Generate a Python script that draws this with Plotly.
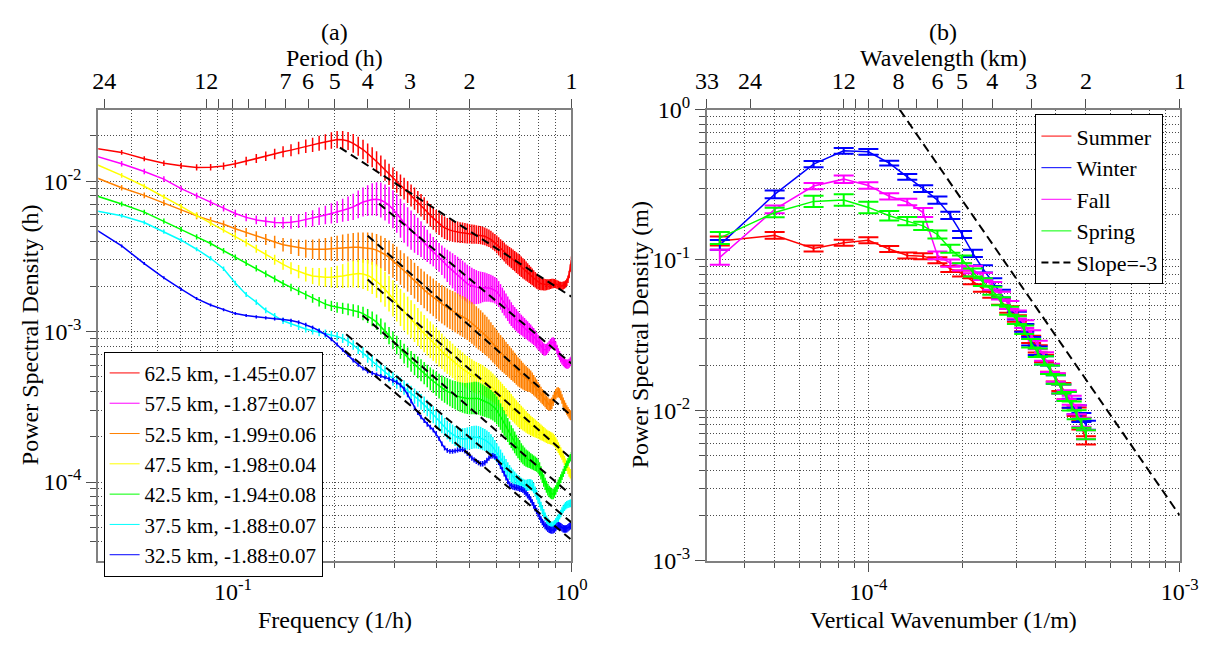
import numpy as np
import plotly.graph_objects as go

# ======================= panel (a) data =======================
FREQ_PER_H = [0.0391, 0.0469, 0.0547, 0.0625, 0.0703, 0.0781, 0.0859, 0.0938, 0.1016, 0.1094,
              0.1172, 0.125, 0.1328, 0.1406, 0.1484, 0.1563, 0.1641, 0.1719, 0.1797, 0.1875,
              0.1953, 0.2031, 0.2109, 0.2188, 0.2266, 0.2344, 0.2422, 0.25, 0.2578, 0.2656,
              0.2734, 0.2813, 0.2891, 0.2969, 0.3047, 0.3125, 0.3203, 0.3281, 0.3359, 0.3438,
              0.3516, 0.3594, 0.3672, 0.375, 0.3828, 0.3906, 0.3984, 0.4063, 0.4141, 0.4219,
              0.4297, 0.4375, 0.4453, 0.4531, 0.4609, 0.4688, 0.4766, 0.4844, 0.4922, 0.5,
              0.5078, 0.5156, 0.5234, 0.5313, 0.5391, 0.5469, 0.5547, 0.5625, 0.5703, 0.5781,
              0.5859, 0.5938, 0.6016, 0.6094, 0.6172, 0.625, 0.6328, 0.6406, 0.6484, 0.6563,
              0.6641, 0.6719, 0.6797, 0.6875, 0.6953, 0.7031, 0.7109, 0.7188, 0.7266, 0.7344,
              0.7422, 0.75, 0.7578, 0.7656, 0.7734, 0.7813, 0.7891, 0.7969, 0.8047, 0.8125,
              0.8203, 0.8281, 0.8359, 0.8438, 0.8516, 0.8594, 0.8672, 0.875, 0.8828, 0.8906,
              0.8984, 0.9063, 0.9141, 0.9219, 0.9297, 0.9375, 0.9453, 0.9531, 0.9609, 0.9688,
              0.9766, 0.9844, 0.9922, 1.0]

# log10 of power spectral density (h)
PSD_LOG10_625 = [-1.780, -1.808, -1.850, -1.880, -1.897, -1.908, -1.907, -1.899, -1.884, -1.865,
                 -1.848, -1.834, -1.818, -1.804, -1.793, -1.779, -1.767, -1.758, -1.747, -1.739,
                 -1.729, -1.723, -1.724, -1.732, -1.748, -1.767, -1.789, -1.815, -1.840, -1.869,
                 -1.897, -1.926, -1.954, -1.980, -2.005, -2.027, -2.049, -2.072, -2.094, -2.116,
                 -2.138, -2.160, -2.182, -2.205, -2.227, -2.246, -2.265, -2.281, -2.297, -2.309,
                 -2.319, -2.325, -2.330, -2.335, -2.338, -2.341, -2.343, -2.345, -2.347, -2.349,
                 -2.351, -2.352, -2.354, -2.356, -2.358, -2.362, -2.366, -2.373, -2.379, -2.387,
                 -2.398, -2.408, -2.420, -2.433, -2.446, -2.458, -2.471, -2.484, -2.493, -2.503,
                 -2.512, -2.522, -2.531, -2.541, -2.550, -2.560, -2.569, -2.579, -2.588, -2.598,
                 -2.607, -2.617, -2.626, -2.636, -2.645, -2.655, -2.664, -2.671, -2.677, -2.680,
                 -2.683, -2.687, -2.688, -2.688, -2.687, -2.685, -2.683, -2.681, -2.680, -2.680,
                 -2.683, -2.687, -2.690, -2.693, -2.696, -2.696, -2.693, -2.690, -2.683, -2.671,
                 -2.652, -2.620, -2.576, -2.525]
PSD_LOG10_575 = [-1.831, -1.884, -1.935, -1.986, -2.049, -2.097, -2.144, -2.179, -2.214, -2.240,
                 -2.257, -2.268, -2.274, -2.276, -2.273, -2.265, -2.255, -2.246, -2.233, -2.224,
                 -2.214, -2.205, -2.193, -2.183, -2.170, -2.154, -2.138, -2.129, -2.121, -2.119,
                 -2.125, -2.141, -2.160, -2.186, -2.214, -2.246, -2.278, -2.303, -2.325, -2.347,
                 -2.366, -2.385, -2.408, -2.430, -2.449, -2.468, -2.487, -2.506, -2.525, -2.544,
                 -2.563, -2.579, -2.595, -2.611, -2.626, -2.641, -2.655, -2.668, -2.680, -2.690,
                 -2.696, -2.701, -2.704, -2.706, -2.706, -2.704, -2.704, -2.706, -2.709, -2.713,
                 -2.718, -2.725, -2.734, -2.750, -2.769, -2.791, -2.810, -2.829, -2.848, -2.867,
                 -2.883, -2.899, -2.912, -2.924, -2.937, -2.947, -2.956, -2.966, -2.975, -2.985,
                 -2.994, -3.004, -3.013, -3.023, -3.032, -3.045, -3.058, -3.070, -3.083, -3.096,
                 -3.108, -3.118, -3.121, -3.118, -3.108, -3.096, -3.083, -3.073, -3.070, -3.077,
                 -3.096, -3.118, -3.140, -3.159, -3.175, -3.188, -3.197, -3.207, -3.213, -3.216,
                 -3.216, -3.210, -3.200, -3.191]
PSD_LOG10_525 = [-1.973, -2.043, -2.094, -2.144, -2.193, -2.230, -2.260, -2.286, -2.316, -2.341,
                 -2.366, -2.387, -2.404, -2.422, -2.433, -2.442, -2.449, -2.452, -2.453, -2.452,
                 -2.449, -2.446, -2.442, -2.441, -2.439, -2.439, -2.441, -2.444, -2.449, -2.458,
                 -2.471, -2.487, -2.506, -2.528, -2.550, -2.573, -2.595, -2.617, -2.639, -2.661,
                 -2.683, -2.702, -2.722, -2.741, -2.756, -2.772, -2.788, -2.804, -2.817, -2.829,
                 -2.842, -2.852, -2.861, -2.871, -2.880, -2.890, -2.899, -2.909, -2.918, -2.931,
                 -2.943, -2.956, -2.969, -2.982, -2.994, -3.007, -3.020, -3.032, -3.048, -3.064,
                 -3.080, -3.096, -3.112, -3.127, -3.140, -3.153, -3.165, -3.178, -3.191, -3.203,
                 -3.216, -3.229, -3.241, -3.254, -3.267, -3.276, -3.286, -3.295, -3.305, -3.311,
                 -3.318, -3.324, -3.333, -3.343, -3.356, -3.368, -3.381, -3.394, -3.406, -3.419,
                 -3.432, -3.444, -3.457, -3.470, -3.479, -3.486, -3.486, -3.476, -3.457, -3.435,
                 -3.416, -3.406, -3.403, -3.410, -3.425, -3.448, -3.470, -3.489, -3.505, -3.521,
                 -3.533, -3.546, -3.555, -3.562]
PSD_LOG10_475 = [-1.884, -1.961, -2.033, -2.103, -2.167, -2.227, -2.278, -2.322, -2.366, -2.408,
                 -2.449, -2.487, -2.522, -2.553, -2.579, -2.601, -2.617, -2.630, -2.636, -2.639,
                 -2.639, -2.636, -2.630, -2.623, -2.617, -2.614, -2.617, -2.626, -2.642, -2.664,
                 -2.690, -2.718, -2.747, -2.779, -2.810, -2.839, -2.867, -2.893, -2.918, -2.943,
                 -2.969, -2.991, -3.013, -3.035, -3.054, -3.073, -3.092, -3.112, -3.131, -3.150,
                 -3.165, -3.178, -3.194, -3.210, -3.222, -3.235, -3.248, -3.261, -3.270, -3.280,
                 -3.289, -3.299, -3.305, -3.311, -3.318, -3.324, -3.333, -3.343, -3.352, -3.362,
                 -3.375, -3.387, -3.400, -3.413, -3.425, -3.438, -3.451, -3.463, -3.476, -3.489,
                 -3.501, -3.514, -3.527, -3.540, -3.552, -3.562, -3.571, -3.581, -3.590, -3.600,
                 -3.609, -3.616, -3.625, -3.631, -3.638, -3.644, -3.650, -3.657, -3.663, -3.670,
                 -3.676, -3.682, -3.689, -3.695, -3.701, -3.704, -3.708, -3.711, -3.717, -3.727,
                 -3.739, -3.755, -3.771, -3.787, -3.803, -3.819, -3.838, -3.857, -3.876, -3.895,
                 -3.914, -3.933, -3.945, -3.958]
PSD_LOG10_425 = [-2.094, -2.151, -2.205, -2.265, -2.320, -2.370, -2.414, -2.462, -2.506, -2.544,
                 -2.579, -2.616, -2.649, -2.680, -2.706, -2.731, -2.756, -2.779, -2.801, -2.817,
                 -2.829, -2.839, -2.845, -2.852, -2.859, -2.867, -2.880, -2.896, -2.915, -2.937,
                 -2.966, -2.994, -3.026, -3.058, -3.089, -3.118, -3.146, -3.172, -3.197, -3.219,
                 -3.238, -3.257, -3.276, -3.295, -3.314, -3.330, -3.346, -3.362, -3.375, -3.387,
                 -3.397, -3.406, -3.416, -3.422, -3.429, -3.435, -3.439, -3.443, -3.444, -3.444,
                 -3.443, -3.441, -3.441, -3.444, -3.451, -3.457, -3.463, -3.470, -3.476, -3.486,
                 -3.495, -3.508, -3.524, -3.543, -3.565, -3.587, -3.609, -3.631, -3.654, -3.676,
                 -3.698, -3.717, -3.736, -3.755, -3.774, -3.790, -3.806, -3.819, -3.831, -3.841,
                 -3.847, -3.853, -3.860, -3.866, -3.872, -3.879, -3.885, -3.895, -3.914, -3.939,
                 -3.964, -3.990, -4.012, -4.031, -4.050, -4.063, -4.072, -4.079, -4.079, -4.069,
                 -4.053, -4.034, -4.015, -3.996, -3.977, -3.958, -3.939, -3.920, -3.901, -3.882,
                 -3.866, -3.850, -3.838, -3.825]
PSD_LOG10_375 = [-2.195, -2.229, -2.274, -2.335, -2.392, -2.452, -2.512, -2.582, -2.677, -2.753,
                 -2.804, -2.858, -2.896, -2.928, -2.947, -2.966, -2.982, -2.994, -3.004, -3.013,
                 -3.023, -3.032, -3.045, -3.064, -3.089, -3.115, -3.140, -3.169, -3.197, -3.222,
                 -3.248, -3.270, -3.292, -3.314, -3.333, -3.352, -3.371, -3.390, -3.410, -3.429,
                 -3.448, -3.467, -3.486, -3.508, -3.530, -3.552, -3.574, -3.597, -3.616, -3.635,
                 -3.654, -3.670, -3.682, -3.695, -3.704, -3.711, -3.714, -3.714, -3.711, -3.708,
                 -3.704, -3.701, -3.701, -3.704, -3.708, -3.714, -3.720, -3.730, -3.739, -3.752,
                 -3.768, -3.787, -3.806, -3.825, -3.844, -3.863, -3.882, -3.901, -3.920, -3.936,
                 -3.952, -3.964, -3.977, -3.990, -3.999, -4.009, -4.015, -4.021, -4.025, -4.025,
                 -4.021, -4.018, -4.018, -4.025, -4.040, -4.063, -4.085, -4.110, -4.136, -4.161,
                 -4.186, -4.209, -4.231, -4.250, -4.266, -4.278, -4.288, -4.291, -4.288, -4.278,
                 -4.266, -4.253, -4.240, -4.224, -4.209, -4.193, -4.180, -4.167, -4.158, -4.151,
                 -4.148, -4.145, -4.142, -4.139]
PSD_LOG10_325 = [-2.316, -2.430, -2.547, -2.642, -2.718, -2.780, -2.823, -2.855, -2.880, -2.893,
                 -2.902, -2.909, -2.915, -2.920, -2.926, -2.937, -2.953, -2.972, -2.994, -3.020,
                 -3.051, -3.086, -3.121, -3.156, -3.191, -3.219, -3.245, -3.264, -3.276, -3.286,
                 -3.295, -3.305, -3.314, -3.324, -3.337, -3.356, -3.381, -3.419, -3.463, -3.508,
                 -3.540, -3.568, -3.593, -3.616, -3.635, -3.654, -3.679, -3.711, -3.746, -3.774,
                 -3.790, -3.796, -3.796, -3.793, -3.787, -3.784, -3.784, -3.793, -3.809, -3.825,
                 -3.841, -3.853, -3.863, -3.872, -3.879, -3.879, -3.872, -3.857, -3.841, -3.828,
                 -3.825, -3.831, -3.847, -3.869, -3.895, -3.920, -3.945, -3.971, -3.996, -4.015,
                 -4.025, -4.031, -4.034, -4.037, -4.040, -4.044, -4.047, -4.053, -4.063, -4.075,
                 -4.088, -4.101, -4.117, -4.136, -4.155, -4.174, -4.193, -4.212, -4.231, -4.250,
                 -4.266, -4.278, -4.291, -4.300, -4.310, -4.316, -4.319, -4.321, -4.319, -4.313,
                 -4.304, -4.294, -4.290, -4.291, -4.297, -4.304, -4.310, -4.313, -4.313, -4.310,
                 -4.304, -4.297, -4.291, -4.288]

# error-bar half widths, in decades
ERR_625 = [0.016, 0.016, 0.017, 0.018, 0.020, 0.021, 0.022, 0.024, 0.026, 0.028, 0.030, 0.032,
           0.035, 0.037, 0.040, 0.042, 0.045, 0.047, 0.050, 0.052, 0.055, 0.057, 0.059, 0.060,
           0.062, 0.063, 0.065, 0.066,
           0.067, 0.068, 0.069, 0.070, 0.070, 0.071, 0.071, 0.072, 0.072, 0.073, 0.073, 0.074,
           0.074, 0.075, 0.075, 0.076, 0.076, 0.076, 0.076, 0.076, 0.075, 0.075, 0.074, 0.073,
           0.072, 0.071, 0.070, 0.069, 0.068, 0.067, 0.066, 0.065, 0.064, 0.063,
           0.062, 0.061, 0.060, 0.060, 0.059, 0.059, 0.058, 0.058, 0.058, 0.058,
           0.059, 0.060, 0.061, 0.062, 0.063, 0.064, 0.065, 0.066, 0.067, 0.068, 0.068, 0.069, 0.069, 0.069,
           0.068, 0.067, 0.066, 0.064, 0.062, 0.060, 0.058, 0.056, 0.054, 0.052, 0.050, 0.048, 0.046, 0.044,
           0.042, 0.040, 0.038, 0.036, 0.035, 0.034, 0.033, 0.032, 0.031, 0.030, 0.029, 0.028,
           0.028, 0.027, 0.027, 0.026, 0.026, 0.025, 0.025, 0.025, 0.025, 0.025, 0.025, 0.025]
ERR_575 = [0.017, 0.018, 0.018, 0.019, 0.019, 0.020, 0.021, 0.022,
           0.024, 0.026, 0.029, 0.032, 0.035, 0.038,
           0.042, 0.046, 0.050, 0.054, 0.058, 0.062,
           0.067, 0.072, 0.077, 0.082, 0.087, 0.092,
           0.097, 0.102, 0.107, 0.112, 0.116, 0.120,
           0.123, 0.126, 0.128, 0.130, 0.131, 0.131, 0.130, 0.128,
           0.124, 0.119, 0.113, 0.107, 0.102, 0.098, 0.096, 0.096,
           0.098, 0.102, 0.107, 0.112, 0.117, 0.121, 0.124, 0.126, 0.127, 0.127,
           0.126, 0.124, 0.121, 0.117, 0.113, 0.109, 0.105, 0.101, 0.098, 0.095,
           0.093, 0.091, 0.089, 0.088, 0.087, 0.086, 0.085, 0.084, 0.083, 0.082, 0.081, 0.080,
           0.079, 0.077, 0.076, 0.074, 0.072, 0.070, 0.068, 0.067, 0.065, 0.064, 0.063, 0.062,
           0.060, 0.058, 0.056, 0.054, 0.052, 0.050, 0.048, 0.045, 0.043, 0.041, 0.039, 0.037,
           0.036, 0.035, 0.034, 0.033, 0.032, 0.032, 0.031, 0.031, 0.030, 0.030,
           0.030, 0.030, 0.030, 0.030, 0.030, 0.030, 0.030, 0.030, 0.030, 0.030]
ERR_525 = [0.017, 0.018, 0.019, 0.020, 0.021, 0.022, 0.023, 0.025,
           0.027, 0.030, 0.033, 0.037, 0.041, 0.045, 0.050, 0.055,
           0.060, 0.065, 0.070, 0.075, 0.080, 0.084, 0.088, 0.092,
           0.095, 0.098, 0.101, 0.104, 0.106, 0.108, 0.109, 0.110,
           0.112, 0.113, 0.114, 0.115, 0.116, 0.117, 0.118, 0.119, 0.120, 0.121, 0.122, 0.123,
           0.124, 0.125, 0.126, 0.127, 0.128, 0.129, 0.130, 0.131, 0.132, 0.133, 0.134, 0.135,
           0.136, 0.137, 0.137, 0.138, 0.138, 0.138, 0.138, 0.137, 0.136, 0.135, 0.133, 0.131,
           0.129, 0.127, 0.125, 0.123,
           0.121, 0.119, 0.117, 0.115, 0.113, 0.111, 0.109, 0.107, 0.105, 0.103, 0.101, 0.099,
           0.097, 0.095,
           0.092, 0.089, 0.086, 0.083, 0.080, 0.077, 0.074, 0.071, 0.068, 0.065, 0.062, 0.059,
           0.056, 0.053,
           0.050, 0.048, 0.046, 0.044, 0.042, 0.040, 0.039, 0.038, 0.037, 0.036, 0.035, 0.034,
           0.033, 0.033, 0.032, 0.032, 0.032, 0.032, 0.032, 0.032, 0.032, 0.032, 0.032, 0.032]
ERR_475 = [0.016, 0.016, 0.017, 0.017, 0.018, 0.019, 0.020, 0.021,
           0.023, 0.025, 0.027, 0.030, 0.033, 0.036, 0.040, 0.044,
           0.049, 0.054, 0.059, 0.064, 0.069, 0.074, 0.079, 0.084,
           0.089, 0.094, 0.099, 0.103, 0.107, 0.111, 0.114, 0.117,
           0.119, 0.121, 0.123, 0.124, 0.125, 0.126, 0.126, 0.126, 0.126, 0.125, 0.124, 0.123,
           0.122, 0.121, 0.120, 0.119, 0.118, 0.117, 0.116, 0.115, 0.114, 0.113, 0.112, 0.111,
           0.110, 0.109, 0.108, 0.107, 0.106, 0.105, 0.104, 0.103, 0.102, 0.101, 0.100, 0.099,
           0.098, 0.097, 0.096, 0.095,
           0.094, 0.093, 0.092, 0.091, 0.090, 0.089, 0.088, 0.087, 0.086, 0.085, 0.084, 0.083,
           0.082, 0.080,
           0.078, 0.076, 0.074, 0.072, 0.070, 0.068, 0.066, 0.064, 0.062, 0.060, 0.058, 0.056,
           0.054, 0.052,
           0.050, 0.048, 0.046, 0.045, 0.044, 0.043, 0.042, 0.041, 0.040, 0.039, 0.038, 0.037,
           0.036, 0.035, 0.034, 0.033, 0.032, 0.032, 0.032, 0.032, 0.032, 0.032, 0.032, 0.032]
ERR_425 = [0.015, 0.016, 0.016, 0.017, 0.017, 0.018, 0.018, 0.019,
           0.019, 0.020, 0.021, 0.022, 0.023, 0.024, 0.025, 0.026,
           0.028, 0.029, 0.031, 0.032, 0.034, 0.035, 0.037, 0.039,
           0.041, 0.043, 0.045, 0.047, 0.049, 0.051, 0.053, 0.055,
           0.057, 0.059, 0.061, 0.063, 0.065, 0.067, 0.069, 0.071, 0.072, 0.073, 0.074, 0.075,
           0.076, 0.078, 0.080, 0.082, 0.084, 0.086, 0.088, 0.090, 0.092, 0.094, 0.096, 0.098,
           0.100, 0.102, 0.104, 0.106, 0.107, 0.108, 0.108, 0.108, 0.107, 0.106, 0.104, 0.102,
           0.100, 0.098, 0.096, 0.094,
           0.092, 0.090, 0.088, 0.086, 0.084, 0.082, 0.080, 0.078, 0.076, 0.074, 0.072, 0.070,
           0.068, 0.066,
           0.064, 0.062, 0.060, 0.058, 0.056, 0.054, 0.052, 0.050, 0.049, 0.048, 0.047, 0.046,
           0.045, 0.044,
           0.043, 0.042, 0.041, 0.040, 0.039, 0.038, 0.037, 0.036, 0.035, 0.034, 0.033, 0.032,
           0.031, 0.030, 0.029, 0.028, 0.027, 0.026, 0.026, 0.025, 0.025, 0.025, 0.025, 0.025]
ERR_375 = [0.013, 0.013, 0.013, 0.014, 0.014, 0.014, 0.015, 0.015,
           0.016, 0.017, 0.018, 0.019, 0.020, 0.021, 0.022, 0.023,
           0.024, 0.025, 0.026, 0.027, 0.028, 0.029, 0.030, 0.031,
           0.032, 0.034, 0.036, 0.038, 0.040, 0.041, 0.042, 0.043,
           0.044, 0.045, 0.046, 0.047, 0.048, 0.049, 0.050, 0.051, 0.052, 0.053, 0.054, 0.055,
           0.056, 0.057, 0.058, 0.059, 0.060, 0.061, 0.062, 0.063, 0.064, 0.066, 0.068, 0.070,
           0.072, 0.073, 0.074, 0.075, 0.076, 0.076, 0.076, 0.076, 0.075, 0.074, 0.073, 0.072,
           0.071, 0.070, 0.068, 0.066,
           0.064, 0.062, 0.060, 0.058, 0.056, 0.054, 0.052, 0.050, 0.049, 0.048, 0.047, 0.046,
           0.045, 0.044,
           0.043, 0.042, 0.041, 0.040, 0.039, 0.038, 0.037, 0.036, 0.035, 0.034, 0.033, 0.032,
           0.031, 0.030,
           0.030, 0.029, 0.029, 0.028, 0.028, 0.028, 0.027, 0.027, 0.027, 0.026, 0.026, 0.026,
           0.025, 0.025, 0.025, 0.025, 0.025, 0.025, 0.025, 0.025, 0.025, 0.025, 0.025, 0.025]
ERR_325 = [0.010, 0.010, 0.010, 0.010, 0.010, 0.010, 0.010, 0.010, 0.010, 0.010,
           0.011, 0.011, 0.011, 0.012, 0.012, 0.012, 0.012, 0.012, 0.013, 0.013,
           0.013, 0.013, 0.013, 0.013, 0.014, 0.014, 0.014, 0.014, 0.014, 0.014,
           0.014, 0.014, 0.014, 0.015, 0.015, 0.015, 0.015, 0.015, 0.015, 0.015,
           0.015, 0.015, 0.015, 0.016, 0.016, 0.016, 0.016, 0.016, 0.016, 0.016,
           0.016, 0.016, 0.016, 0.016, 0.017, 0.017, 0.017, 0.017, 0.017, 0.017,
           0.017, 0.017, 0.017, 0.017, 0.018, 0.018, 0.018, 0.018, 0.018, 0.018,
           0.018, 0.018, 0.018, 0.018, 0.019, 0.019, 0.019, 0.019, 0.019, 0.019,
           0.020, 0.020, 0.020, 0.020, 0.020, 0.020, 0.020, 0.020, 0.021, 0.021,
           0.021, 0.021, 0.021, 0.021, 0.022, 0.022, 0.022, 0.022, 0.022, 0.022,
           0.022, 0.022, 0.023, 0.023, 0.023, 0.023, 0.023, 0.023, 0.024, 0.024,
           0.024, 0.024, 0.024, 0.024, 0.025, 0.025, 0.025, 0.025, 0.025, 0.025,
           0.025, 0.025, 0.025, 0.025]

SERIES_A = [PSD_LOG10_625, PSD_LOG10_575, PSD_LOG10_525, PSD_LOG10_475,
            PSD_LOG10_425, PSD_LOG10_375, PSD_LOG10_325]
ERRORS_A = [ERR_625, ERR_575, ERR_525, ERR_475, ERR_425, ERR_375, ERR_325]
LABELS_A = ["62.5 km, -1.45±0.07", "57.5 km, -1.87±0.07", "52.5 km, -1.99±0.06",
            "47.5 km, -1.98±0.04", "42.5 km, -1.94±0.08", "37.5 km, -1.88±0.07",
            "32.5 km, -1.88±0.07"]
COLORS_A = ["#FF0000", "#FF00FF", "#FF8000", "#FFFF00", "#00FF00", "#00FFFF", "#0000FF"]
# fitted power laws (slope, log10 PSD at 1 cycle/h, first fitted frequency)
FIT_SLOPE = [-1.45, -1.87, -1.99, -1.98, -1.94, -1.88, -1.88]
FIT_LOG10_AT_1 = [-2.768, -3.212, -3.560, -3.846, -4.089, -4.269, -4.385]
FIT_START_FREQ = [0.207, 0.27, 0.25, 0.25, 0.2415, 0.216, 0.214]

PERIOD_TICKS_H = [24, 12, 7, 6, 5, 4, 3, 2, 1]
PERIOD_MINOR_H = [11, 10, 9, 8]

# ======================= panel (b) data =======================
WAVENUMBER_PER_M = [3.333e-5, 5.0e-5, 6.667e-5, 8.333e-5, 1.0e-4, 1.1667e-4, 1.3333e-4, 1.5e-4,
                    1.6667e-4, 1.8333e-4, 2.0e-4, 2.1667e-4, 2.3333e-4, 2.5e-4, 2.6667e-4,
                    2.8333e-4, 3.0e-4, 3.1667e-4, 3.3333e-4, 3.5e-4, 3.6667e-4, 3.8333e-4,
                    4.0e-4, 4.1667e-4, 4.3333e-4, 4.5e-4, 4.6667e-4, 4.8333e-4, 5.0e-4]
SUMMER_LOG10 = [-0.875, -0.837, -0.924, -0.886, -0.869, -0.928, -0.970, -0.975, -1.003, -1.060,
                -1.090, -1.142, -1.192, -1.230, -1.276, -1.330, -1.390, -1.450, -1.528, -1.592,
                -1.655, -1.718, -1.782, -1.845, -1.900, -1.955, -2.010, -2.100, -2.200]
WINTER_LOG10 = [-0.900, -0.564, -0.363, -0.275, -0.281, -0.357, -0.448, -0.526, -0.602, -0.704,
                -0.831, -0.957, -1.059, -1.148, -1.224, -1.300, -1.370, -1.452, -1.541, -1.604,
                -1.668, -1.731, -1.795, -1.858, -1.909, -1.953, -1.997, -2.048, -2.099]
FALL_LOG10 = [-0.983, -0.664, -0.509, -0.463, -0.505, -0.577, -0.615, -0.685, -0.970, -1.021,
              -1.046, -1.065, -1.110, -1.173, -1.237, -1.300, -1.363, -1.427, -1.496, -1.566,
              -1.642, -1.718, -1.782, -1.858, -1.896, -1.934, -1.997, -2.080, -2.162]
SPRING_LOG10 = [-0.854, -0.685, -0.611, -0.602, -0.651, -0.706, -0.742, -0.774, -0.831, -0.926,
                -0.996, -1.084, -1.148, -1.205, -1.275, -1.338, -1.401, -1.465, -1.554, -1.617,
                -1.668, -1.731, -1.795, -1.858, -1.909, -1.972, -2.029, -2.086, -2.162]
SUMMER_ERR = [0.030, 0.022, 0.020, 0.020, 0.020, 0.020, 0.020, 0.020, 0.020, 0.020, 0.020, 0.020,
              0.020, 0.022, 0.022, 0.022, 0.022, 0.024, 0.024, 0.024, 0.024, 0.026, 0.026, 0.026,
              0.026, 0.028, 0.028, 0.028, 0.028]
WINTER_ERR = [0.032, 0.026, 0.021, 0.019, 0.019, 0.016, 0.019, 0.022, 0.024, 0.024, 0.024, 0.024,
              0.024, 0.026, 0.026, 0.026, 0.026, 0.026, 0.028, 0.028, 0.028, 0.028, 0.028, 0.030,
              0.030, 0.030, 0.030, 0.030, 0.030]
FALL_ERR = [0.050, 0.026, 0.021, 0.025, 0.022, 0.021, 0.021, 0.030, 0.026, 0.024, 0.024, 0.024,
            0.024, 0.026, 0.026, 0.026, 0.026, 0.026, 0.028, 0.028, 0.028, 0.028, 0.028, 0.030,
            0.030, 0.030, 0.030, 0.030, 0.030]
SPRING_ERR = [0.040, 0.032, 0.038, 0.038, 0.038, 0.032, 0.028, 0.028, 0.026, 0.026, 0.026, 0.026,
              0.026, 0.026, 0.026, 0.026, 0.026, 0.028, 0.028, 0.028, 0.028, 0.028, 0.028, 0.030,
              0.030, 0.030, 0.030, 0.030, 0.030]
SEASONS = ["Summer", "Winter", "Fall", "Spring"]
SEASON_SERIES = [SUMMER_LOG10, WINTER_LOG10, FALL_LOG10, SPRING_LOG10]
SEASON_ERRORS = [SUMMER_ERR, WINTER_ERR, FALL_ERR, SPRING_ERR]
SEASON_COLORS = ["#FF0000", "#0000FF", "#FF00FF", "#00FF00"]
REF_SLOPE = -3
REF_PSD_AT_1E3 = 2e-3
WAVELENGTH_TICKS_KM = [33, 24, 12, 8, 6, 5, 4, 3, 2, 1]
WAVELENGTH_MINOR_KM = [11, 10, 9, 7]

# ======================= figure =======================
W, H = 1225, 649
FONT = "Liberation Serif"
AXC = "#808080"
TICKC = "#505050"
GRIDC = "#4a4a4a"
DOT = "1px,2px"
L_DOM = [88.5 / W, 574 / W]
R_DOM = [713 / W, 1198 / W]
Y_DOM = [1 - 570 / H, 1 - 97 / H]
EPS = 1e-6


def px(x):
    return x / W


def py(y):
    return 1 - y / H


def sup(e):
    return "10<sup>%d</sup>" % e


fig = go.Figure()

# ---- panel (a) curves ----
for logs, errs, col in zip(SERIES_A, ERRORS_A, COLORS_A):
    v = 10 ** np.array(logs)
    e = np.array(errs)
    fig.add_trace(go.Scatter(
        x=FREQ_PER_H, y=v, mode="lines", line=dict(color=col, width=1.5),
        error_y=dict(type="data", symmetric=False, array=v * (10 ** e - 1),
                     arrayminus=v * (1 - 10 ** (-e)), color=col, thickness=1.5, width=0),
        showlegend=False, hoverinfo="skip", xaxis="x", yaxis="y"))

for s, a, f0 in zip(FIT_SLOPE, FIT_LOG10_AT_1, FIT_START_FREQ):
    xs = [f0, 1.0]
    ys = [10 ** (a + s * np.log10(f0)), 10 ** a]
    fig.add_trace(go.Scatter(x=xs, y=ys, mode="lines",
                             line=dict(color="black", width=2, dash="8px,5px"),
                             showlegend=False, hoverinfo="skip", xaxis="x", yaxis="y"))

for lab, col in zip(LABELS_A, COLORS_A):
    fig.add_trace(go.Scatter(x=[None], y=[None], mode="lines", name=lab,
                             line=dict(color=col, width=1), legend="legend",
                             xaxis="x", yaxis="y"))

# dummy trace for the top (period) axis
fig.add_trace(go.Scatter(x=[0.5], y=[1e-3], mode="markers", marker=dict(opacity=0),
                         showlegend=False, hoverinfo="skip", xaxis="x2", yaxis="y"))

# ---- panel (b) curves ----
for logs, errs, col in zip(SEASON_SERIES, SEASON_ERRORS, SEASON_COLORS):
    v = 10 ** np.array(logs)
    e = np.array(errs)
    fig.add_trace(go.Scatter(
        x=WAVENUMBER_PER_M, y=v, mode="lines", line=dict(color=col, width=1.5),
        error_y=dict(type="data", symmetric=False, array=v * (10 ** e - 1),
                     arrayminus=v * (1 - 10 ** (-e)), color=col, thickness=2, width=10),
        showlegend=False, hoverinfo="skip", xaxis="x3", yaxis="y2"))

m_start = 1e-3 * (1.0 / REF_PSD_AT_1E3) ** (1.0 / REF_SLOPE)
fig.add_trace(go.Scatter(x=[m_start, 1e-3], y=[1.0, REF_PSD_AT_1E3], mode="lines",
                         line=dict(color="black", width=2, dash="9px,5px"),
                         showlegend=False, hoverinfo="skip", xaxis="x3", yaxis="y2"))

for lab, col in zip(SEASONS, SEASON_COLORS):
    fig.add_trace(go.Scatter(x=[None], y=[None], mode="lines", name=lab,
                             line=dict(color=col, width=1), legend="legend2",
                             xaxis="x3", yaxis="y2"))
fig.add_trace(go.Scatter(x=[None], y=[None], mode="lines", name="Slope=-3",
                         line=dict(color="black", width=2, dash="7px,4px"), legend="legend2",
                         xaxis="x3", yaxis="y2"))

fig.add_trace(go.Scatter(x=[1e-4], y=[0.1], mode="markers", marker=dict(opacity=0),
                         showlegend=False, hoverinfo="skip", xaxis="x4", yaxis="y2"))

# ---- axes ----
tickfont = dict(family=FONT, size=24, color="black")
common = dict(type="log", showline=True, linecolor=AXC, linewidth=2, ticks="outside",
              tickcolor=TICKC, tickwidth=1, tickfont=tickfont, zeroline=False,
              tickmode="array")


def grid_minor(vals, ln=5):
    return dict(tickmode="array", tickvals=vals, ticks="outside", ticklen=ln, tickwidth=1,
                tickcolor=TICKC, showgrid=True, gridcolor=GRIDC, griddash=DOT, gridwidth=1)


def tick_minor(vals, ln=9):
    return dict(tickmode="array", tickvals=vals, ticks="outside", ticklen=ln, tickwidth=1,
                tickcolor=TICKC, showgrid=False)


freq_minor = [0.05, 0.06, 0.07, 0.08, 0.09, 0.2, 0.3, 0.4, 0.5, 0.6, 0.7, 0.8, 0.9]
freq_range = [np.log10(0.04) - EPS, EPS]
psd_a_minor = ([d * 1e-5 for d in range(4, 10)] + [d * 1e-4 for d in range(2, 10)] +
               [d * 1e-3 for d in range(2, 10)] + [2e-2])
wn_minor = [d * 1e-5 for d in range(4, 10)] + [d * 1e-4 for d in range(2, 10)]
wn_range = [np.log10(1.0 / 33000) - EPS, -3 + EPS]
psd_b_minor = ([d * 1e-3 for d in range(2, 10)] + [d * 1e-2 for d in range(2, 10)] +
               [d * 1e-1 for d in range(2, 10)])

fig.update_layout(
    width=W, height=H, margin=dict(l=0, r=0, t=0, b=0),
    paper_bgcolor="white", plot_bgcolor="white",
    font=dict(family=FONT, size=24, color="black"),
    xaxis=dict(domain=L_DOM, anchor="y", range=freq_range, tickvals=[0.1, 1],
               ticktext=[sup(-1), sup(0)], ticklen=9, showgrid=True, gridcolor=GRIDC,
               griddash=DOT, gridwidth=1, minor=grid_minor(freq_minor), **common),
    xaxis2=dict(overlaying="x", anchor="y", side="top", range=freq_range,
                tickvals=[1.0 / p for p in PERIOD_TICKS_H],
                ticktext=[str(p) for p in PERIOD_TICKS_H], ticklen=9, showgrid=False,
                minor=tick_minor([1.0 / p for p in PERIOD_MINOR_H]), **common),
    yaxis=dict(domain=Y_DOM, anchor="x", range=[np.log10(3e-5), np.log10(3e-2)],
               tickvals=[1e-4, 1e-3, 1e-2], ticktext=[sup(-4), sup(-3), sup(-2)], ticklen=10,
               showgrid=True, gridcolor=GRIDC, griddash=DOT, gridwidth=1, mirror=True,
               minor=grid_minor(psd_a_minor, 6), **common),
    xaxis3=dict(domain=R_DOM, anchor="y2", range=wn_range, tickvals=[1e-4, 1e-3],
                ticktext=[sup(-4), sup(-3)], ticklen=9, showgrid=True, gridcolor=GRIDC,
                griddash=DOT, gridwidth=1, minor=grid_minor(wn_minor), **common),
    xaxis4=dict(overlaying="x3", anchor="y2", side="top", range=wn_range,
                tickvals=[1.0 / (k * 1000.0) for k in WAVELENGTH_TICKS_KM],
                ticktext=[str(k) for k in WAVELENGTH_TICKS_KM], ticklen=9, showgrid=False,
                minor=tick_minor([1.0 / (k * 1000.0) for k in WAVELENGTH_MINOR_KM]), **common),
    yaxis2=dict(domain=Y_DOM, anchor="x3", range=[-3 - EPS, EPS],
                tickvals=[1e-3, 1e-2, 1e-1, 1], ticktext=[sup(-3), sup(-2), sup(-1), sup(0)],
                ticklen=10, showgrid=True, gridcolor=GRIDC, griddash=DOT, gridwidth=1,
                mirror=True, minor=grid_minor(psd_b_minor, 6), **common),
    legend=dict(x=px(94), y=py(351), xanchor="left", yanchor="top", bgcolor="white",
                bordercolor="black", borderwidth=1, tracegroupgap=0,
                font=dict(family=FONT, size=21, color="black")),
    legend2=dict(x=px(1050), y=py(102), xanchor="left", yanchor="top", bgcolor="white",
                 bordercolor="black", borderwidth=1, tracegroupgap=0,
                 font=dict(family=FONT, size=22, color="black")),
)

ann_font = dict(family=FONT, size=24, color="black")
for txt, x, y in [("(a)", 331, 16), ("Period (h)", 331, 43), ("(b)", 955.5, 16),
                  ("Wavelength (km)", 955.5, 43), ("Frequency (1/h)", 331, 632),
                  ("Vertical Wavenumber (1/m)", 955.5, 632)]:
    fig.add_annotation(text=txt, x=px(x), y=py(y), xref="paper", yref="paper",
                       showarrow=False, font=ann_font, xanchor="center", yanchor="middle")
for txt, x in [("Power Spectral Density (h)", 18), ("Power Spectral Density (m)", 644)]:
    fig.add_annotation(text=txt, x=px(x), y=py(333), xref="paper", yref="paper",
                       showarrow=False, font=ann_font, textangle=-90,
                       xanchor="center", yanchor="middle")

fig.write_html("out.html")
